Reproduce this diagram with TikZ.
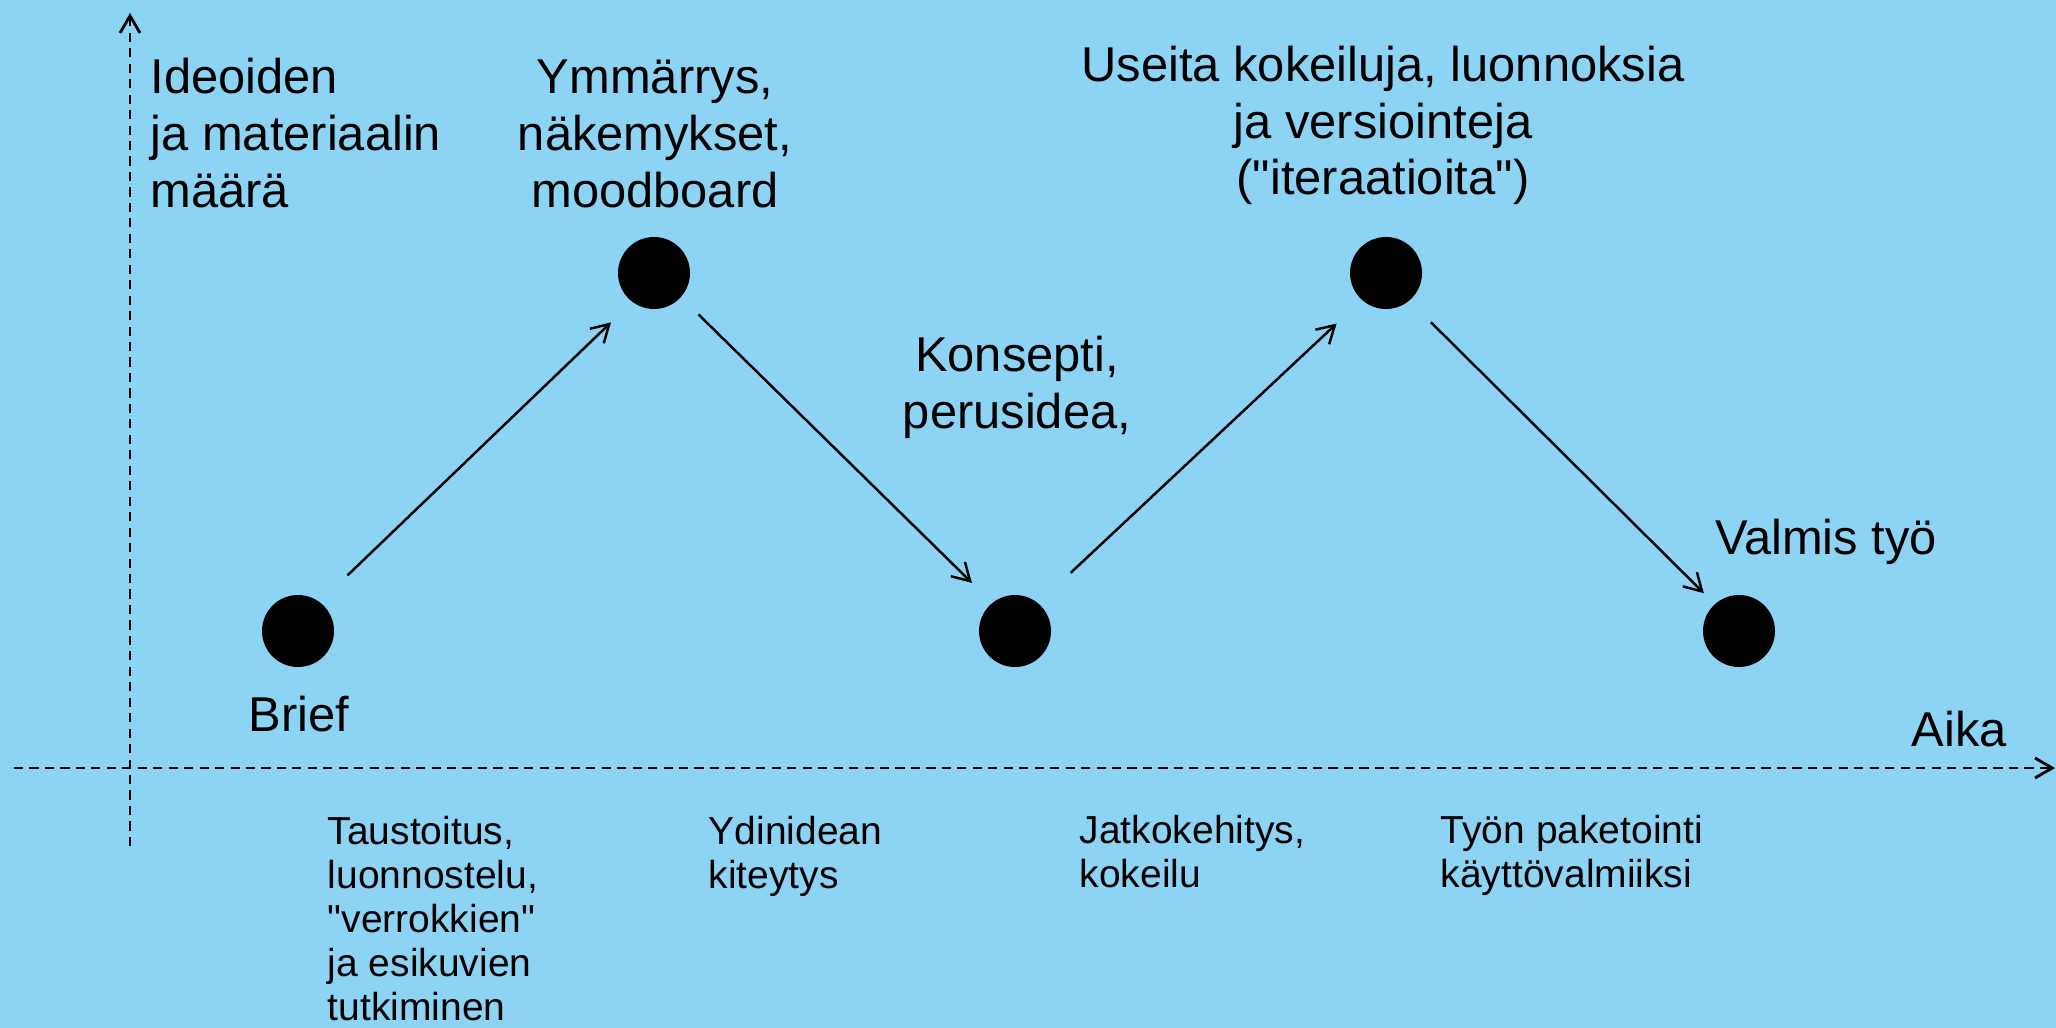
\documentclass[tikz,border=0pt]{standalone}
\usepackage{fontspec}
\setmainfont{Liberation Sans}
\usepackage{tikz}
\usetikzlibrary{arrows.meta,positioning,calc}
\definecolor{bgblue}{RGB}{141,212,244}

\begin{document}
\begin{tikzpicture}[
    dot/.style={circle, fill=black, minimum size=0.72cm, inner sep=0pt},
    biglabel/.style={font=\fontsize{13.9}{16.2}\selectfont, inner sep=0pt, align=center, anchor=base},
    smalllabel/.style={font=\fontsize{11.1}{12.5}\selectfont, inner sep=0pt, align=left, anchor=base west},
    axisline/.style={-{Straight Barb[length=4.9pt,width=5.7pt]}, line width=0.8pt, dash pattern=on 2.6pt off 1.8pt},
    flow/.style={-{Straight Barb[length=4.9pt,width=5.7pt]}, line width=0.7pt}
]
    % Background
    \fill[bgblue] (0,0) rectangle (20.56,-10.28);
    \useasboundingbox (0,0) rectangle (20.56,-10.28);

    % Axes
    \coordinate (ybot) at (1.30,-8.46);
    \coordinate (ytop) at (1.30,-0.13);
    \coordinate (xleft) at (0.14,-7.68);
    \coordinate (xright) at (20.55,-7.68);
    \draw[axisline] (ybot) -- (ytop);
    \draw[axisline] (xleft) -- (xright);
    % (base = baseline of the last line)
    \node[biglabel, align=left, anchor=base west] (maara) at (1.50,-2.07) {Ideoiden\\ja materiaalin\\määrä};
    \node[biglabel, anchor=base west] (aika) at (19.11,-7.46) {Aika};

    % Stages
    \node[dot] (brief) at (2.98,-6.31) {};
    \node[dot] (ymmarrys) at (6.54,-2.73) {};
    \node[dot] (konsepti) at (10.15,-6.31) {};
    \node[dot] (iteraatiot) at (13.86,-2.73) {};
    \node[dot] (valmis) at (17.39,-6.31) {};

    % Stage labels
    \node[biglabel] (briefTxt) at (2.99,-7.31) {Brief};
    \node[biglabel] (ymmarrysTxt) at (6.55,-2.07) {Ymmärrys,\\näkemykset,\\moodboard};
    \node[biglabel] (konseptiTxt) at (10.17,-4.28) {Konsepti,\\perusidea,};
    \node[biglabel] (iteraatiotTxt) at (13.83,-1.95) {Useita kokeiluja, luonnoksia\\ja versiointeja\\(\textquotedbl iteraatioita\textquotedbl)};
    \node[biglabel] (valmisTxt) at (18.26,-5.54) {Valmis työ};

    % Arrows
    \draw[flow, shorten <=0.38cm, shorten >=0.29cm] (brief.53) -- (ymmarrys.233);
    \draw[flow, shorten <=0.24cm, shorten >=0.28cm] (ymmarrys.-42) -- (konsepti.129);
    \draw[flow, shorten <=0.44cm, shorten >=0.34cm] (konsepti.50) -- (iteraatiot.228);
    \draw[flow, shorten <=0.30cm, shorten >=0.15cm] (iteraatiot.-50) -- (valmis.132);

    % Phases under the time axis
    \node[smalllabel] (taustoitus) at (3.27,-10.20) {Taustoitus,\\luonnostelu,\\\textquotedbl verrokkien\textquotedbl\\ja esikuvien\\tutkiminen};
    \node[smalllabel] (ydinidea) at (7.08,-8.88) {Ydinidean\\kiteytys};
    \node[smalllabel] (jatkokehitys) at (10.79,-8.87) {Jatkokehitys,\\kokeilu};
    \node[smalllabel] (paketointi) at (14.40,-8.87) {Työn paketointi\\käyttövalmiiksi};
\end{tikzpicture}
\end{document}
